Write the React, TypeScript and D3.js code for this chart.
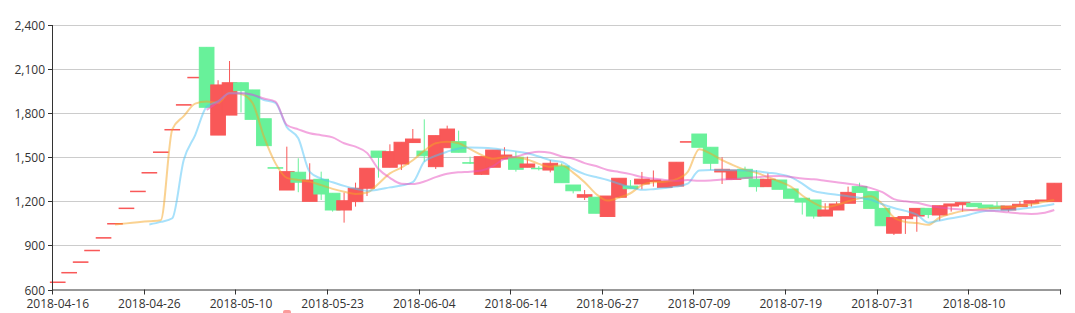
import React, { useEffect, useRef } from "react";
import * as d3 from "d3";

const dates: string[] = [
  "2018-04-16","2018-04-17","2018-04-18","2018-04-19","2018-04-20","2018-04-23","2018-04-24","2018-04-25","2018-04-26","2018-04-27",
  "2018-05-02","2018-05-03","2018-05-04","2018-05-07","2018-05-08","2018-05-09","2018-05-10",
  "2018-05-11","2018-05-14","2018-05-15","2018-05-16","2018-05-18","2018-05-21","2018-05-22","2018-05-23",
  "2018-05-24","2018-05-25","2018-05-28","2018-05-29","2018-05-30","2018-05-31","2018-06-01","2018-06-04",
  "2018-06-05","2018-06-06","2018-06-07","2018-06-08","2018-06-11","2018-06-12","2018-06-13","2018-06-14",
  "2018-06-15","2018-06-19","2018-06-20","2018-06-21","2018-06-22","2018-06-25","2018-06-26","2018-06-27",
  "2018-06-28","2018-06-29","2018-07-02","2018-07-03","2018-07-04","2018-07-05","2018-07-06","2018-07-09",
  "2018-07-10","2018-07-11","2018-07-12","2018-07-13","2018-07-16","2018-07-17","2018-07-18","2018-07-19",
  "2018-07-20","2018-07-23","2018-07-24","2018-07-25","2018-07-26","2018-07-27","2018-07-30","2018-07-31",
  "2018-08-01","2018-08-02","2018-08-03","2018-08-06","2018-08-07","2018-08-08","2018-08-09","2018-08-10",
  "2018-08-13","2018-08-14","2018-08-15","2018-08-16","2018-08-17","2018-08-20","2018-08-21",
];

const opens: number[] = [
  651,716,788,867,953,1049,1154,1269,1396,1536,
  1689,1858,2044,2248,1651,1787,2007,1958,1762,1429,
  1277,1398,1200,1350,1255,1141,1198,1289,1542,1432,
  1454,1600,1542,1436,1565,1606,1463,1384,1432,1488,
  1500,1432,1425,1413,1440,1311,1228,1228,1097,1228,
  1304,1318,1335,1295,1304,1606,1658,1568,1400,1350,
  1418,1350,1300,1345,1284,1221,1209,1100,1141,1187,
  1300,1266,1152,983,1082,1100,1152,1107,1168,1177,
  1187,1175,1168,1141,1164,1187,1202,1198,
];
const closes: number[] = [
  651,716,788,867,953,1049,1154,1269,1396,1536,
  1689,1858,2044,1840,1992,2007,1953,1758,1579,1429,
  1402,1330,1345,1250,1141,1204,1289,1425,1500,1538,
  1602,1624,1510,1647,1692,1534,1463,1504,1549,1515,
  1418,1454,1425,1459,1327,1272,1245,1119,1236,1357,
  1286,1351,1345,1338,1466,1606,1568,1459,1418,1413,
  1357,1300,1350,1282,1221,1195,1100,1141,1182,1261,
  1261,1152,1034,1089,1096,1152,1110,1170,1182,1191,
  1164,1155,1150,1168,1180,1204,1209,1323,
];
const lows: number[] = [
  651,716,788,867,953,1049,1154,1269,1396,1536,
  1689,1858,2044,1840,1651,1787,1805,1758,1579,1429,
  1277,1262,1200,1209,1130,1055,1164,1236,1361,1432,
  1413,1600,1470,1420,1565,1534,1454,1380,1432,1488,
  1402,1432,1410,1397,1327,1254,1209,1119,1097,1222,
  1286,1282,1300,1295,1304,1606,1568,1413,1318,1350,
  1357,1266,1300,1282,1221,1110,1082,1100,1141,1187,
  1261,1152,1034,971,978,993,1085,1068,1130,1130,
  1164,1155,1150,1130,1164,1164,1202,1198,
];
const highs: number[] = [
  651,716,788,867,953,1049,1154,1269,1396,1536,
  1689,1858,2044,2248,2024,2155,2010,1958,1762,1429,
  1572,1493,1459,1402,1255,1259,1327,1425,1542,1588,
  1602,1692,1758,1647,1715,1681,1504,1504,1549,1568,
  1538,1504,1440,1481,1459,1311,1277,1228,1236,1357,
  1345,1400,1410,1338,1466,1606,1658,1568,1500,1413,
  1436,1413,1391,1345,1284,1221,1209,1187,1198,1300,
  1327,1266,1152,1089,1096,1152,1152,1170,1182,1191,
  1187,1175,1198,1168,1202,1204,1209,1323,
];

type V = number | null;
const ma5: V[] = [
  null,null,null,null,null,1043,1050,1058,1065,1072,
  1690,1780,1865,1880,1870,1939,1930,1870,1640,1460,
  1360,1345,1334,1310,1285,1265,1250,1260,1320,1390,
  1430,1480,1545,1595,1605,1595,1555,1515,1490,1500,
  1500,1485,1455,1435,1445,1395,1330,1250,1205,1225,
  1255,1310,1330,1334,1350,1400,1555,1525,1480,1445,
  1415,1395,1365,1335,1300,1240,1190,1160,1175,1200,
  1220,1235,1180,1090,1060,1052,1040,1090,1115,1135,
  1143,1150,1157,1162,1168,1178,1195,1209,
];
const ma10: V[] = [
  null,null,null,null,null,null,null,null,1043,1060,
  1085,1481,1651,1844,1880,1935,1935,1925,1890,1870,
  1705,1629,1400,1355,1330,1305,1285,1272,1280,1295,
  1308,1330,1470,1510,1538,1560,1567,1565,1560,1550,
  1540,1527,1505,1480,1468,1420,1385,1365,1345,1320,
  1295,1278,1283,1290,1300,1320,1410,1413,1413,1412,
  1410,1405,1395,1385,1365,1320,1270,1255,1245,1235,
  1225,1210,1180,1155,1135,1110,1055,1070,1085,1098,
  1118,1135,1138,1140,1148,1158,1168,1182,
];
const ma20: V[] = [
  null,null,null,null,null,null,null,null,null,null,
  null,null,null,1822,1875,1935,1935,1925,1900,1878,
  1719,1690,1663,1650,1635,1595,1572,1530,1420,1360,
  1320,1318,1335,1365,1388,1398,1402,1410,1440,1490,
  1504,1525,1538,1530,1505,1490,1460,1440,1413,1400,
  1385,1365,1355,1345,1340,1345,1340,1342,1348,1352,
  1358,1364,1370,1372,1366,1355,1350,1340,1330,1320,
  1308,1290,1262,1215,1200,1190,1172,1158,1150,1145,
  1140,1138,1132,1125,1118,1114,1120,1141,
];

const yTicks: number[] = [600, 900, 1200, 1500, 1800, 2100, 2400];
const labelEvery = 8;

const UP = "#F95858";
const DOWN = "#68F19A";
const lineSeries = [
  { name: "MA5", values: ma5, color: "#F5A623" },
  { name: "MA10", values: ma10, color: "#4FC3F7" },
  { name: "MA20", values: ma20, color: "#E850C0" },
];

export default function App() {
  const ref = useRef<SVGSVGElement | null>(null);

  useEffect(() => {
    document.body.style.margin = "0";
    const svg = d3.select(ref.current);
    svg.selectAll("*").remove();

    const left = 52, right = 1060, top = 25, bottom = 289.5;
    const x = d3.scaleBand<string>().domain(dates).range([left, right]).paddingInner(0).paddingOuter(0);
    const y = d3.scaleLinear().domain([600, 2400]).range([bottom, top]);
    const bw = x.bandwidth();
    const cw = bw * 1.28;
    const font = "'Open Sans', 'Noto Sans', sans-serif";

    // grid
    svg.append("g").selectAll("line").data(yTicks.filter((t) => t !== 600)).enter().append("line")
      .attr("x1", left).attr("x2", right + 1)
      .attr("y1", (d) => Math.round(y(d)) + 0.5).attr("y2", (d) => Math.round(y(d)) + 0.5)
      .attr("stroke", "#cccccc").attr("stroke-width", 1);

    // candles
    const g = svg.append("g");
    dates.forEach((d, i) => {
      const o = opens[i], c = closes[i], lo = lows[i], hi = highs[i];
      const prev = i > 0 ? closes[i - 1] : o;
      const up = c > o ? true : c < o ? false : c >= prev;
      const col = up ? UP : DOWN;
      const cx = (x(d) as number) + bw / 2;
      g.append("line").attr("x1", cx).attr("x2", cx).attr("y1", y(hi)).attr("y2", y(lo))
        .attr("stroke", col).attr("stroke-width", 1);
      const yt = y(Math.max(o, c));
      const yb = y(Math.min(o, c));
      g.append("rect").attr("x", cx - cw / 2).attr("y", yt)
        .attr("width", cw).attr("height", Math.max(0.5, yb - yt))
        .attr("fill", col).attr("stroke", col).attr("stroke-width", 1);
    });

    // MA lines
    lineSeries.forEach((s) => {
      const line = d3.line<V>()
        .defined((v) => v !== null)
        .x((_, i) => (x(dates[i]) as number) + bw / 2)
        .y((v) => y(v as number))
        .curve(d3.curveMonotoneX);
      svg.append("path").attr("d", line(s.values) as string)
        .attr("fill", "none").attr("stroke", s.color).attr("stroke-width", 2)
        .attr("stroke-opacity", 0.5);
    });

    // y axis
    const ya = svg.append("g");
    ya.append("line").attr("x1", left + 0.5).attr("x2", left + 0.5).attr("y1", top).attr("y2", bottom + 0.5)
      .attr("stroke", "#333").attr("stroke-width", 1);
    yTicks.forEach((t) => {
      const yy = Math.round(y(t)) + 0.5;
      ya.append("line").attr("x1", left - 4).attr("x2", left).attr("y1", yy).attr("y2", yy)
        .attr("stroke", "#333");
      ya.append("text").attr("x", left - 7).attr("y", yy).attr("dy", "0.35em")
        .attr("text-anchor", "end").attr("font-family", font).attr("font-size", 12)
        .attr("fill", "#333").text(d3.format(",")(t));
    });

    // x axis
    const xa = svg.append("g");
    xa.append("line").attr("x1", left).attr("x2", right + 1).attr("y1", bottom + 0.5).attr("y2", bottom + 0.5)
      .attr("stroke", "#333").attr("stroke-width", 1);
    dates.forEach((d, i) => {
      if (i % labelEvery !== 0) return;
      const bx = Math.round(x(d) as number) + 0.5;
      xa.append("line").attr("x1", bx).attr("x2", bx).attr("y1", bottom).attr("y2", bottom + 5)
        .attr("stroke", "#333");
      xa.append("text").attr("x", (x(d) as number) + bw / 2).attr("y", 308)
        .attr("text-anchor", "middle").attr("font-family", font).attr("font-size", 12)
        .attr("fill", "#333").text(d);
    });
    xa.append("line").attr("x1", right + 0.5).attr("x2", right + 0.5).attr("y1", bottom).attr("y2", bottom + 5)
      .attr("stroke", "#333");

    // partially visible legend icon
    svg.append("rect").attr("x", 283).attr("y", 310).attr("width", 8).attr("height", 5).attr("rx", 2)
      .attr("fill", UP).attr("opacity", 0.6);
  }, []);

  return (
    <svg ref={ref} width={1075} height={313}
      style={{ position: "absolute", left: 0, top: 0, background: "#fff" }} />
  );
}
